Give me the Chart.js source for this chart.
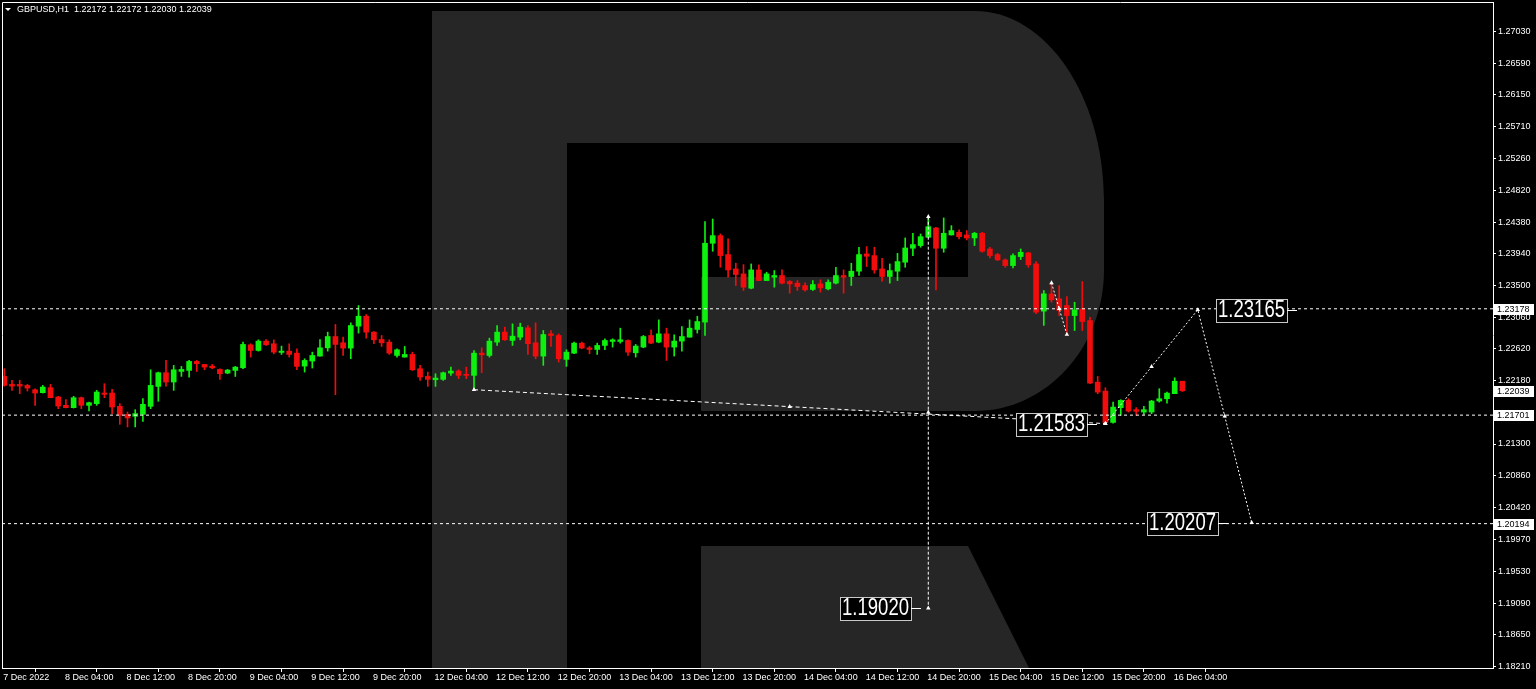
<!DOCTYPE html>
<html>
<head>
<meta charset="utf-8">
<title>GBPUSD H1</title>
<script src="https://cdn.jsdelivr.net/npm/chart.js@4.4.1/dist/chart.umd.min.js"></script>
<style>
  html, body { margin: 0; padding: 0; background: #000; }
  #grafico { display: block; }
</style>
</head>
<body>
<canvas id="grafico" width="1536" height="689"></canvas>
<script>
// Datos del gráfico (velas H1, desde 7 Dec 20:00)
const symbolName = 'GBPUSD,H1';

const opens = [
  1.22239, 1.22128, 1.22128, 1.22114, 1.22054, 1.22013, 1.22082, 1.21953, 1.21837, 1.21805,
  1.21943, 1.21837, 1.21860, 1.22008, 1.22008, 1.21823, 1.21712, 1.21685, 1.21712, 1.21823,
  1.22100, 1.22290, 1.22161, 1.22308, 1.22322, 1.22447, 1.22405, 1.22382, 1.22336, 1.22285,
  1.22322, 1.22359, 1.22678, 1.22599, 1.22729, 1.22692, 1.22572, 1.22590, 1.22562, 1.22382,
  1.22452, 1.22521, 1.22636, 1.22793, 1.22706, 1.22632, 1.22937, 1.23075, 1.22854, 1.22752,
  1.22715, 1.22530, 1.22507, 1.22544, 1.22345, 1.22239, 1.22193, 1.22198, 1.22285, 1.22313,
  1.22267, 1.22253, 1.22562, 1.22530, 1.22715, 1.22854, 1.22738, 1.22784, 1.22914, 1.22706,
  1.22521, 1.22830, 1.22807, 1.22475, 1.22562, 1.22701, 1.22636, 1.22613, 1.22669, 1.22724,
  1.22724, 1.22738, 1.22567, 1.22646, 1.22807, 1.22715, 1.22830, 1.22646, 1.22729, 1.22784,
  1.22891, 1.22993, 1.24088, 1.24194, 1.23931, 1.23732, 1.23663, 1.23464, 1.23718, 1.23570,
  1.23617, 1.23640, 1.23557, 1.23534, 1.23501, 1.23446, 1.23524, 1.23455, 1.23534, 1.23640,
  1.23626, 1.23700, 1.23940, 1.23917, 1.23732, 1.23626, 1.23700, 1.23825, 1.24019, 1.24056,
  1.24171, 1.24300, 1.24019, 1.24203, 1.24240, 1.24203, 1.24162, 1.24227, 1.24009, 1.23931,
  1.23857, 1.23778, 1.23903, 1.23954, 1.23801, 1.23145, 1.23385, 1.23316, 1.23223, 1.23084,
  1.23177, 1.23015, 1.22159, 1.22035, 1.21600, 1.21805, 1.21906, 1.21777, 1.21744, 1.21744,
  1.21897, 1.21929, 1.21999, 1.22172
];
const highs = [
  1.22345, 1.22184, 1.22184, 1.22128, 1.22068, 1.22114, 1.22128, 1.21962, 1.21916, 1.21962,
  1.21953, 1.21883, 1.22045, 1.22137, 1.22059, 1.21860, 1.21745, 1.21777, 1.21930, 1.22331,
  1.22299, 1.22461, 1.22392, 1.22378, 1.22461, 1.22461, 1.22405, 1.22405, 1.22345, 1.22336,
  1.22378, 1.22715, 1.22692, 1.22747, 1.22752, 1.22747, 1.22660, 1.22692, 1.22623, 1.22484,
  1.22576, 1.22752, 1.22854, 1.22960, 1.22784, 1.22983, 1.23223, 1.23098, 1.22863, 1.22807,
  1.22747, 1.22623, 1.22655, 1.22576, 1.22392, 1.22299, 1.22276, 1.22299, 1.22368, 1.22331,
  1.22368, 1.22599, 1.22636, 1.22770, 1.22946, 1.22923, 1.22969, 1.22978, 1.22946, 1.22983,
  1.22877, 1.22877, 1.22830, 1.22609, 1.22715, 1.22715, 1.22655, 1.22701, 1.22761, 1.22761,
  1.22909, 1.22747, 1.22683, 1.22807, 1.22886, 1.23024, 1.22909, 1.22817, 1.22932, 1.23024,
  1.23075, 1.24388, 1.24425, 1.24217, 1.24148, 1.23811, 1.23792, 1.23801, 1.23788, 1.23686,
  1.23709, 1.23718, 1.23570, 1.23570, 1.23538, 1.23570, 1.23580, 1.23580, 1.23755, 1.23718,
  1.23811, 1.24033, 1.24042, 1.24033, 1.23880, 1.23801, 1.23949, 1.24162, 1.24227, 1.24217,
  1.24452, 1.24310, 1.24440, 1.24333, 1.24273, 1.24264, 1.24240, 1.24240, 1.24033, 1.23949,
  1.23871, 1.23940, 1.24009, 1.23963, 1.23834, 1.23432, 1.23528, 1.23500, 1.23348, 1.23269,
  1.23556, 1.23061, 1.22239, 1.22082, 1.21882, 1.21915, 1.21929, 1.21805, 1.21823, 1.21906,
  1.22068, 1.22021, 1.22220, 1.22172
];
const lows = [
  1.22105, 1.22045, 1.21999, 1.22036, 1.21837, 1.22008, 1.21943, 1.21791, 1.21800, 1.21800,
  1.21791, 1.21759, 1.21837, 1.21943, 1.21722, 1.21574, 1.21537, 1.21537, 1.21615, 1.21791,
  1.21893, 1.22105, 1.22045, 1.22239, 1.22230, 1.22308, 1.22331, 1.22345, 1.22198, 1.22276,
  1.22239, 1.22345, 1.22507, 1.22590, 1.22669, 1.22553, 1.22544, 1.22507, 1.22331, 1.22299,
  1.22355, 1.22521, 1.22590, 1.21985, 1.22530, 1.22484, 1.22840, 1.22770, 1.22692, 1.22655,
  1.22544, 1.22507, 1.22507, 1.22322, 1.22184, 1.22100, 1.22100, 1.22184, 1.22253, 1.22207,
  1.22207, 1.22045, 1.22290, 1.22507, 1.22669, 1.22738, 1.22669, 1.22747, 1.22544, 1.22484,
  1.22392, 1.22655, 1.22438, 1.22378, 1.22553, 1.22623, 1.22553, 1.22544, 1.22609, 1.22646,
  1.22701, 1.22530, 1.22507, 1.22636, 1.22692, 1.22706, 1.22461, 1.22521, 1.22590, 1.22784,
  1.22840, 1.22808, 1.23977, 1.23755, 1.23617, 1.23501, 1.23432, 1.23455, 1.23570, 1.23570,
  1.23478, 1.23524, 1.23395, 1.23432, 1.23423, 1.23432, 1.23409, 1.23441, 1.23524, 1.23395,
  1.23501, 1.23640, 1.23765, 1.23672, 1.23561, 1.23534, 1.23570, 1.23755, 1.23917, 1.24033,
  1.24171, 1.23441, 1.23963, 1.24203, 1.24148, 1.24134, 1.24056, 1.23963, 1.23885, 1.23848,
  1.23755, 1.23746, 1.23862, 1.23755, 1.23109, 1.22947, 1.23269, 1.23084, 1.22815, 1.22876,
  1.22876, 1.22137, 1.21999, 1.21583, 1.21590, 1.21697, 1.21744, 1.21697, 1.21712, 1.21721,
  1.21882, 1.21868, 1.21999, 1.22030
];
const closes = [
  1.22114, 1.22105, 1.22105, 1.22077, 1.22008, 1.22091, 1.21943, 1.21828, 1.21805, 1.21943,
  1.21837, 1.21874, 1.22022, 1.21990, 1.21814, 1.21699, 1.21662, 1.21722, 1.21851, 1.22114,
  1.22290, 1.22161, 1.22331, 1.22336, 1.22447, 1.22415, 1.22368, 1.22359, 1.22276, 1.22327,
  1.22368, 1.22683, 1.22599, 1.22729, 1.22678, 1.22576, 1.22590, 1.22544, 1.22378, 1.22461,
  1.22530, 1.22636, 1.22793, 1.22683, 1.22632, 1.22946, 1.23075, 1.22854, 1.22747, 1.22706,
  1.22562, 1.22609, 1.22544, 1.22331, 1.22230, 1.22198, 1.22216, 1.22290, 1.22313, 1.22253,
  1.22253, 1.22562, 1.22539, 1.22729, 1.22854, 1.22747, 1.22798, 1.22923, 1.22692, 1.22521,
  1.22821, 1.22807, 1.22484, 1.22576, 1.22701, 1.22632, 1.22613, 1.22669, 1.22738, 1.22747,
  1.22747, 1.22576, 1.22660, 1.22793, 1.22701, 1.22830, 1.22646, 1.22729, 1.22793, 1.22909,
  1.23001, 1.24088, 1.24194, 1.23917, 1.23718, 1.23654, 1.23478, 1.23718, 1.23570, 1.23663,
  1.23640, 1.23534, 1.23524, 1.23487, 1.23441, 1.23515, 1.23469, 1.23547, 1.23640, 1.23617,
  1.23700, 1.23931, 1.23908, 1.23718, 1.23626, 1.23709, 1.23834, 1.24023, 1.24070, 1.24180,
  1.24319, 1.24019, 1.24227, 1.24264, 1.24180, 1.24162, 1.24227, 1.23977, 1.23917, 1.23857,
  1.23778, 1.23917, 1.23963, 1.23788, 1.23132, 1.23386, 1.23302, 1.23154, 1.23084, 1.23163,
  1.23001, 1.22146, 1.22021, 1.21595, 1.21813, 1.21906, 1.21758, 1.21754, 1.21777, 1.21897,
  1.21929, 1.22007, 1.22172, 1.22039
];

// etiquetas del eje de tiempo (cada 8 velas)
const xTickBars = [0, 8, 16, 24, 32, 40, 48, 56, 64, 72, 80, 88, 96, 104, 112, 120, 128, 136, 144, 152];
const xTickLabels = [
  '7 Dec 2022', '8 Dec 04:00', '8 Dec 12:00', '8 Dec 20:00', '9 Dec 04:00',
  '9 Dec 12:00', '9 Dec 20:00', '12 Dec 04:00', '12 Dec 12:00', '12 Dec 20:00',
  '13 Dec 04:00', '13 Dec 12:00', '13 Dec 20:00', '14 Dec 04:00', '14 Dec 12:00',
  '14 Dec 20:00', '15 Dec 04:00', '15 Dec 12:00', '15 Dec 20:00', '16 Dec 04:00'
];
const yTickValues = [
  1.18210, 1.18650, 1.19090, 1.19530, 1.19970, 1.20420, 1.20860, 1.21300, 1.22180, 1.22620,
  1.23060, 1.23500, 1.23940, 1.24380, 1.24820, 1.25260, 1.25710, 1.26150, 1.26590, 1.27030
];

// niveles horizontales y etiquetas de precio a la derecha
const levelLines = [1.23178, 1.21701, 1.20194];
const priceTags = [1.23178, 1.22039, 1.21701, 1.20194];

// trazos del pronóstico [vela, precio]
const trendPath = [[61, 1.22054], [102, 1.21819], [143, 1.21583]];
const dropPath = [[120, 1.24457], [120, 1.21739], [120, 1.19020]];
const forecastPath = [[143, 1.21583], [149, 1.22374], [155, 1.23165], [158.5, 1.21686], [162, 1.20207]];
const pullbackPath = [[136, 1.23538], [137, 1.23180], [138, 1.22821]];

// textos con recuadro
const noteValues = [1.19020, 1.21583, 1.23165, 1.20207];
const noteBars = [120, 143, 155, 162];

// ---- layout ----
const X_MIN = -0.3, X_MAX = 193.34;
const Y_MIN = 1.18189, Y_MAX = 1.27439;
const noteShift = [-17, -18, 18, -34];
const GREEN = '#0ef00e';
const RED = '#f20d0d';
const FONT = "'Liberation Sans', Arial, sans-serif";

const candleColors = opens.map((o, i) => closes[i] >= o ? GREEN : RED);
const toXY = p => ({ x: p[0], y: p[1] });

function pathSet(points, dash) {
  return {
    type: 'line',
    data: points.map(toXY),
    borderColor: '#ffffff',
    borderWidth: 1,
    borderDash: dash,
    pointStyle: 'triangle',
    pointRadius: 2.6,
    pointBackgroundColor: '#ffffff',
    pointBorderWidth: 0,
    tension: 0,
    order: 1
  };
}

function levelSet(v) {
  return {
    type: 'line',
    data: [{ x: X_MIN, y: v }, { x: X_MAX, y: v }],
    borderColor: '#ffffff',
    borderWidth: 1,
    borderDash: [3, 3],
    pointRadius: 0,
    order: 1
  };
}

// quitar el relleno automático que Chart.js añade por las etiquetas
function noPad(s) {
  s.paddingTop = 0;
  s.paddingBottom = 0;
  s.paddingLeft = 0;
  s.paddingRight = 0;
}

// fondo y logo de marca de agua
const backdrop = {
  id: 'backdrop',
  beforeDraw(chart) {
    const ctx = chart.ctx;
    ctx.save();
    ctx.fillStyle = '#000';
    ctx.fillRect(0, 0, chart.width, chart.height);
    const a = chart.chartArea;
    ctx.beginPath();
    ctx.rect(a.left, a.top, a.right - a.left, a.bottom - a.top);
    ctx.clip();
    ctx.fillStyle = '#262626';
    ctx.beginPath();
    ctx.moveTo(432, 11);
    ctx.lineTo(975, 11);
    ctx.bezierCurveTo(1046, 11, 1104, 96, 1104, 200);
    ctx.lineTo(1104, 270);
    ctx.bezierCurveTo(1104, 348, 1046, 411, 975, 411);
    ctx.lineTo(701, 411);
    ctx.lineTo(701, 277);
    ctx.lineTo(567, 277);
    ctx.lineTo(567, 700);
    ctx.lineTo(432, 700);
    ctx.closePath();
    ctx.fill();
    ctx.beginPath();
    ctx.moveTo(701, 546);
    ctx.lineTo(968, 546);
    ctx.lineTo(1045, 700);
    ctx.lineTo(701, 700);
    ctx.closePath();
    ctx.fill();
    ctx.fillStyle = '#000';
    ctx.fillRect(567, 143, 401, 134);
    ctx.restore();
  }
};

// marco, etiquetas de precio, textos y cabecera
const overlay = {
  id: 'overlay',
  afterDraw(chart) {
    const ctx = chart.ctx;
    const a = chart.chartArea;
    const xs = chart.scales.x, ys = chart.scales.y;
    ctx.save();
    ctx.strokeStyle = '#ffffff';
    ctx.lineWidth = 1;
    ctx.beginPath();
    ctx.moveTo(a.left + 0.5, a.bottom);
    ctx.lineTo(a.left + 0.5, a.top + 0.5);
    ctx.lineTo(a.right, a.top + 0.5);
    ctx.stroke();

    // etiquetas de precio en el eje derecho
    ctx.font = '9px ' + FONT;
    ctx.textBaseline = 'middle';
    ctx.textAlign = 'left';
    priceTags.forEach(v => {
      const y = Math.round(ys.getPixelForValue(v));
      ctx.fillStyle = '#ffffff';
      ctx.fillRect(a.right + 1, y - 5, 40, 11);
      ctx.fillStyle = '#000000';
      ctx.fillText(v.toFixed(5), a.right + 4, y + 0.5);
    });

    // textos grandes con recuadro
    noteValues.forEach((v, k) => {
      const ax = xs.getPixelForValue(noteBars[k]);
      const ay = Math.round(ys.getPixelForValue(v));
      const w = 71, h = 23;
      const shift = noteShift[k];
      const left = Math.round(shift < 0 ? ax + shift - w : ax + shift);
      const top = ay - 11;
      ctx.fillStyle = '#000000';
      ctx.fillRect(left, top, w, h);
      ctx.strokeStyle = '#c8c8c8';
      ctx.strokeRect(left + 0.5, top + 0.5, w, h);
      ctx.strokeStyle = '#ffffff';
      ctx.beginPath();
      ctx.moveTo(left + w, ay + 0.5);
      ctx.lineTo(left + w + 10, ay + 0.5);
      ctx.stroke();
      ctx.fillStyle = '#ffffff';
      ctx.font = '23px ' + FONT;
      const txt = v.toFixed(5);
      const tw = ctx.measureText(txt).width;
      ctx.save();
      ctx.translate(left + 2, ay + 1);
      ctx.scale(67 / tw, 1);
      ctx.fillText(txt, 0, 0);
      ctx.restore();
    });

    // cabecera
    const n = closes.length - 1;
    ctx.fillStyle = '#ffffff';
    ctx.beginPath();
    ctx.moveTo(5, 8);
    ctx.lineTo(11, 8);
    ctx.lineTo(8, 11);
    ctx.closePath();
    ctx.fill();
    ctx.font = '9px ' + FONT;
    ctx.textBaseline = 'middle';
    const head = symbolName + '  ' + [opens[n], highs[n], lows[n], closes[n]].map(v => v.toFixed(5)).join(' ');
    ctx.fillText(head, 17, 10);
    ctx.restore();
  }
};

const ctx = document.getElementById('grafico');

new Chart(ctx, {
  type: 'bar',
  data: {
    datasets: [
      levelSet(levelLines[0]),
      levelSet(levelLines[1]),
      levelSet(levelLines[2]),
      pathSet(trendPath, [4, 3]),
      pathSet(dropPath, [3, 2]),
      pathSet(forecastPath, [2, 2]),
      pathSet(pullbackPath, [2, 2]),
      {
        label: 'body',
        data: opens.map((o, i) => ({ x: i, y: [o, closes[i]] })),
        backgroundColor: candleColors,
        borderWidth: 0,
        barThickness: 5,
        minBarLength: 1,
        grouped: false,
        order: 2
      },
      {
        label: 'wick',
        data: lows.map((l, i) => ({ x: i, y: [l, highs[i]] })),
        backgroundColor: candleColors,
        borderWidth: 0,
        barThickness: 1,
        grouped: false,
        order: 3
      }
    ]
  },
  options: {
    responsive: false,
    devicePixelRatio: 1,
    animation: false,
    layout: { autoPadding: false, padding: { left: 2, top: 2, right: 0, bottom: 0 } },
    plugins: { legend: { display: false }, tooltip: { enabled: false } },
    scales: {
      x: {
        type: 'linear',
        position: 'bottom',
        min: X_MIN,
        max: X_MAX,
        offset: false,
        grid: { display: true, drawOnChartArea: false, drawTicks: true, tickLength: 4, color: '#ffffff' },
        border: { display: true, color: '#ffffff' },
        ticks: {
          autoSkip: false,
          maxRotation: 0,
          minRotation: 0,
          align: 'start',
          labelOffset: -1,
          padding: 0,
          color: '#ffffff',
          font: { family: FONT, size: 9 },
          callback: v => {
            const k = xTickBars.indexOf(v);
            return k >= 0 ? xTickLabels[k] : '';
          }
        },
        afterBuildTicks: s => { s.ticks = xTickBars.map(v => ({ value: v })); },
        afterFit: s => { s.height = 21; noPad(s); }
      },
      y: {
        type: 'linear',
        position: 'right',
        min: Y_MIN,
        max: Y_MAX,
        grid: { display: true, drawOnChartArea: false, drawTicks: true, tickLength: 3, color: '#ffffff' },
        border: { display: true, color: '#ffffff' },
        ticks: {
          padding: 2,
          color: '#ffffff',
          font: { family: FONT, size: 9 },
          callback: v => Number(v).toFixed(5)
        },
        afterBuildTicks: s => { s.ticks = yTickValues.map(v => ({ value: v })); },
        afterFit: s => { s.width = 43; noPad(s); }
      }
    }
  },
  plugins: [backdrop, overlay]
});
</script>
</body>
</html>
